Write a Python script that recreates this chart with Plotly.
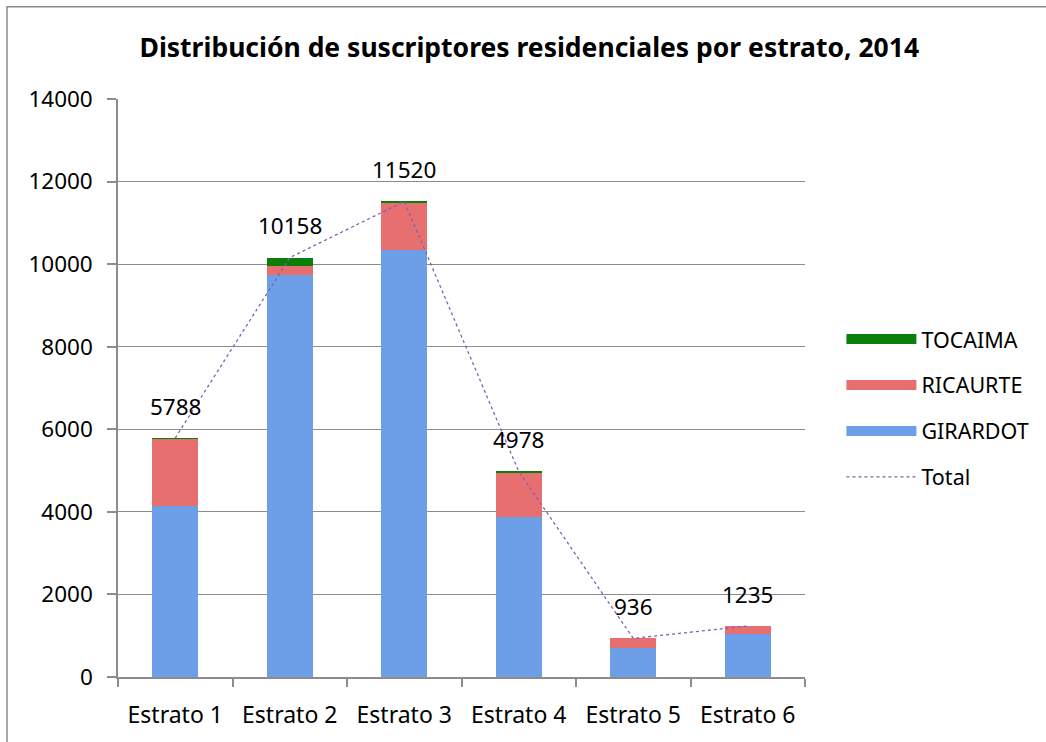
import plotly.graph_objects as go

categories = ["Estrato 1", "Estrato 2", "Estrato 3", "Estrato 4", "Estrato 5", "Estrato 6"]
girardot = [4136, 9726, 10351, 3873, 705, 1042]
ricaurte = [1630, 240, 1149, 1080, 231, 193]
tocaima = [22, 192, 20, 25, 0, 0]
total = [5788, 10158, 11520, 4978, 936, 1235]

FONT = "Noto Sans"
GRAY = "#8c8c8c"
C_GIR = "#6c9fe8"
C_RIC = "#e86f6f"
C_TOC = "#0a800a"
C_TOT = "#7e62b3"

fig = go.Figure()
fig.add_trace(go.Bar(name="GIRARDOT", x=categories, y=girardot, marker_color=C_GIR,
                     marker_line_width=0, showlegend=False))
fig.add_trace(go.Bar(name="RICAURTE", x=categories, y=ricaurte, marker_color=C_RIC,
                     marker_line_width=0, showlegend=False))
fig.add_trace(go.Bar(name="TOCAIMA", x=categories, y=tocaima, marker_color=C_TOC,
                     marker_line_width=0, showlegend=False))
fig.add_trace(go.Scatter(name="Total", x=categories, y=total, mode="lines",
                         line=dict(color=C_TOT, width=1.3, dash="dot"),
                         legendrank=4, legendgroup="z"))

# legend keys for the stacked series (wide bar-like swatches)
for name, col, rank in [("TOCAIMA", C_TOC, 1), ("RICAURTE", C_RIC, 2), ("GIRARDOT", C_GIR, 3)]:
    fig.add_trace(go.Scatter(name=name, x=[None], y=[None], mode="lines",
                             line=dict(color=col, width=14), legendrank=rank,
                             legendgroup=name, hoverinfo="skip"))

for c, t in zip(categories, total):
    fig.add_annotation(x=c, y=t, text=str(t), showarrow=False, yshift=32,
                       font=dict(family=FONT, size=22.5, color="black"))

fig.update_layout(
    width=1046, height=742,
    barmode="stack", bargap=0.6,
    paper_bgcolor="white", plot_bgcolor="white",
    margin=dict(l=118, r=238, t=99, b=55),
    font=dict(family=FONT, size=22, color="black"),
    title=dict(text="<b>Distribución de suscriptores residenciales por estrato, 2014</b>",
               x=0.506, xanchor="center", y=0.936, yanchor="middle",
               font=dict(family=FONT, size=26.5, color="black")),
    legend=dict(x=1.053, xanchor="left", y=0.62, yanchor="top",
                traceorder="grouped", tracegroupgap=15, itemwidth=70,
                font=dict(family=FONT, size=21.5, color="black"),
                bgcolor="rgba(0,0,0,0)"),
    showlegend=True,
)
fig.update_yaxes(range=[0, 14000], dtick=2000, tickformat="d", showgrid=True, gridcolor=GRAY,
                 gridwidth=1, showline=True, linecolor=GRAY, linewidth=1.5, ticks="outside",
                 ticklen=9, tickcolor=GRAY, tickwidth=1.5, zeroline=False, ticklabelstandoff=10,
                 tickfont=dict(family=FONT, size=22.5))
fig.update_xaxes(showline=True, linecolor=GRAY, linewidth=1.5, ticks="outside", ticklen=8,
                 tickcolor=GRAY, tickwidth=1.5, tickson="boundaries", ticklabelstandoff=17,
                 tickfont=dict(family=FONT, size=23))

fig.add_shape(type="rect", xref="paper", yref="paper", x0=-0.1616, x1=1.4, y0=-0.2, y1=1.1598,
              line=dict(color="#8a8a8a", width=1.5), fillcolor="rgba(0,0,0,0)", layer="below")

fig.write_html("out.html", config={"displayModeBar": False},
               post_script="document.body.style.margin='0px';")
